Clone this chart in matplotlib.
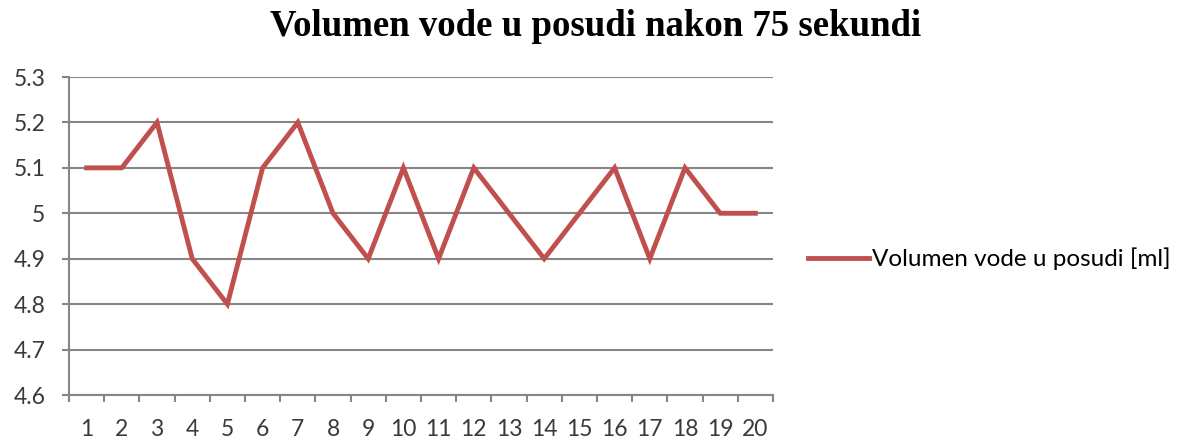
import matplotlib
matplotlib.use("Agg")
import matplotlib.pyplot as plt
from matplotlib.lines import Line2D

categories = [str(i) for i in range(1, 21)]
values = [5.1, 5.1, 5.2, 4.9, 4.8, 5.1, 5.2, 5.0, 4.9, 5.1,
          4.9, 5.1, 5.0, 4.9, 5.0, 5.1, 4.9, 5.1, 5.0, 5.0]
yticks = [4.6, 4.7, 4.8, 4.9, 5.0, 5.1, 5.2, 5.3]
ytick_labels = ["4.6", "4.7", "4.8", "4.9", "5", "5.1", "5.2", "5.3"]
title = "Volumen vode u posudi nakon 75 sekundi"
series_name = "Volumen vode u posudi [ml]"

W, H = 1188, 444
fig = plt.figure(figsize=(W / 100, H / 100), dpi=100)
ax = fig.add_axes([69 / W, 1 - 395 / H, (773 - 69) / W, (395 - 77) / H])

line_color = "#C0504D"
grid_color = "#868686"
tick_font = "Lato"
fs = 16.5

x = list(range(len(categories)))
ax.plot(x, values, color=line_color, lw=3.5, solid_joinstyle="miter")
ax.set_xlim(-0.5, len(categories) - 0.5)
ax.set_ylim(4.6, 5.3)

ax.set_yticks(yticks)
ax.set_yticklabels(ytick_labels, fontsize=fs, family=tick_font, color="#3a3a3a")
ax.set_xticks(x)
ax.set_xticklabels(categories, fontsize=fs, family=tick_font, color="#3a3a3a")
ax.set_xticks([i - 0.5 for i in range(len(categories) + 1)], minor=True)

ax.yaxis.grid(True, color=grid_color, lw=1.5)
ax.set_axisbelow(True)
for s in ["top", "right"]:
    ax.spines[s].set_visible(False)
for s in ["left", "bottom"]:
    ax.spines[s].set_color(grid_color)
    ax.spines[s].set_linewidth(1.5)

ax.tick_params(axis="x", which="major", length=0, pad=17)
ax.tick_params(axis="x", which="minor", length=5, width=1.5, color=grid_color, direction="out")
ax.tick_params(axis="y", length=5, width=1.5, color=grid_color, pad=12)

fig.text(596 / W, 1 - 26 / H, title, ha="center", va="center",
         family="Liberation Serif", fontweight="bold", fontsize=26.5)

handle = Line2D([], [], color=line_color, lw=3.5)
fig.legend([handle], [series_name], loc="center left",
           bbox_to_anchor=(808 / W, 1 - 259 / H), frameon=False,
           prop={"family": tick_font, "size": 17.5}, handlelength=2.5,
           handletextpad=0.15, borderaxespad=0, borderpad=0)

fig.savefig("out.png", dpi=100)
